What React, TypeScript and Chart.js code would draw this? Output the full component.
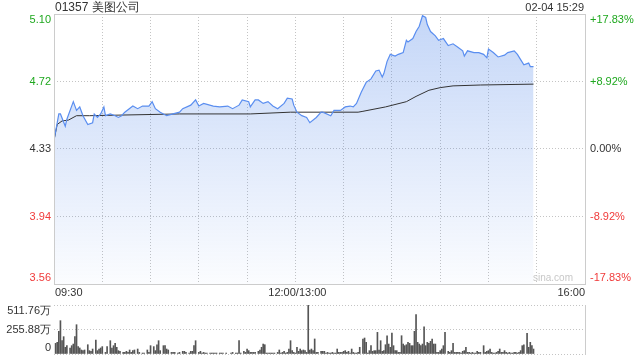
import React, { useEffect, useRef } from "react";
import { Chart, registerables } from "chart.js";

Chart.register(...registerables);

// ---------- data ----------
const titleText = "01357 美图公司";
const stampText = "02-04 15:29";
const watermarkText = "sina.com";

// x axis: minutes of trading session from 09:30 (lunch break collapsed: 150 = 12:00/13:00, 330 = 16:00)
const sessionMax = 330;
const gridStep = 30;
const xLabelMinutes = [0, 150, 330];
const xLabelTexts = ["09:30", "12:00/13:00", "16:00"];

const priceMin = 3.56;
const priceMax = 5.1;
const priceTickValues = [5.1, 4.715, 4.33, 3.945, 3.56];
const priceTickLabels = ["5.10", "4.72", "4.33", "3.94", "3.56"];
const pctTickLabels = ["+17.83%", "+8.92%", "0.00%", "-8.92%", "-17.83%"];

const priceMinutes = [0, 3, 4, 7, 8, 12, 14, 16, 18, 21, 24, 25, 27, 29, 31, 32, 35, 38, 40, 42, 44, 49, 52, 55, 59, 61, 63, 66, 70, 74, 78, 80, 85, 88, 90, 93, 99, 103, 108, 111, 115, 117, 121, 122, 125, 127, 130, 133, 136, 139, 143, 145, 148, 149, 151, 154, 157, 159, 163, 166, 167, 172, 174, 178, 181, 184, 186, 188, 191, 194, 197, 200, 202, 204, 205, 207, 209, 212, 214, 217, 219, 220, 223, 225, 227, 229, 231, 232, 234, 237, 239, 242, 245, 248, 251, 254, 255, 257, 261, 264, 267, 269, 270, 273, 276, 280, 282, 286, 288, 290, 292, 295, 296, 298];
const priceValues = [4.38, 4.53, 4.53, 4.46, 4.5, 4.6, 4.55, 4.57, 4.52, 4.47, 4.48, 4.53, 4.51, 4.53, 4.57, 4.52, 4.53, 4.52, 4.51, 4.52, 4.54, 4.575, 4.56, 4.575, 4.575, 4.6, 4.56, 4.54, 4.52, 4.53, 4.54, 4.56, 4.58, 4.61, 4.575, 4.59, 4.575, 4.57, 4.575, 4.56, 4.58, 4.61, 4.6, 4.57, 4.61, 4.61, 4.59, 4.6, 4.575, 4.56, 4.59, 4.62, 4.615, 4.58, 4.54, 4.52, 4.51, 4.48, 4.51, 4.54, 4.54, 4.52, 4.55, 4.55, 4.57, 4.575, 4.57, 4.59, 4.655, 4.71, 4.73, 4.775, 4.78, 4.74, 4.76, 4.83, 4.87, 4.86, 4.87, 4.88, 4.95, 4.94, 4.96, 5.0, 5.03, 5.09, 5.08, 5.04, 5.0, 4.975, 4.95, 4.96, 4.92, 4.93, 4.91, 4.89, 4.86, 4.89, 4.88, 4.88, 4.87, 4.85, 4.9, 4.88, 4.855, 4.865, 4.88, 4.89, 4.87, 4.84, 4.81, 4.82, 4.8, 4.8];

const avgMinutes = [0, 2, 5, 9, 14, 22, 78, 122, 147, 189, 192, 206, 219, 225, 233, 240, 248, 265, 298];
const avgValues = [4.38, 4.47, 4.49, 4.495, 4.52, 4.52, 4.53, 4.53, 4.54, 4.54, 4.545, 4.57, 4.6, 4.63, 4.665, 4.68, 4.69, 4.695, 4.7];

// volume in 万 shares
const volMax = 511.76;
const volTickValues = [511.76, 255.88, 0];
const volTickLabels = ["511.76万", "255.88万", "0"];
const volMinutes = [1, 2, 3, 4, 5, 6, 7, 8, 10, 11, 12, 13, 14, 15, 16, 17, 18, 19, 21, 22, 23, 24, 26, 27, 28, 29, 30, 32, 33, 35, 36, 37, 38, 39, 40, 41, 43, 44, 45, 46, 47, 48, 49, 50, 52, 53, 55, 56, 58, 59, 60, 62, 63, 64, 65, 66, 68, 69, 70, 71, 73, 74, 75, 77, 78, 80, 81, 82, 84, 85, 86, 87, 88, 90, 91, 92, 93, 94, 95, 97, 98, 99, 100, 101, 103, 104, 105, 107, 110, 111, 113, 114, 115, 116, 118, 119, 120, 121, 122, 123, 124, 125, 127, 128, 129, 130, 131, 132, 133, 134, 135, 136, 137, 139, 140, 141, 142, 143, 144, 145, 146, 147, 148, 149, 150, 151, 152, 153, 154, 155, 156, 157, 158, 159, 160, 161, 162, 163, 164, 166, 167, 168, 169, 170, 171, 172, 173, 174, 175, 176, 177, 178, 179, 180, 181, 182, 183, 184, 185, 186, 187, 188, 189, 190, 192, 193, 194, 195, 196, 197, 198, 199, 200, 201, 202, 203, 204, 205, 206, 207, 208, 209, 210, 211, 212, 213, 214, 215, 216, 217, 218, 219, 220, 221, 222, 223, 224, 225, 226, 227, 228, 229, 230, 231, 232, 233, 234, 235, 236, 237, 238, 239, 240, 241, 242, 243, 245, 246, 247, 248, 249, 250, 251, 252, 253, 254, 255, 256, 257, 258, 259, 260, 261, 262, 263, 264, 265, 267, 268, 269, 270, 271, 272, 273, 274, 275, 276, 277, 278, 279, 280, 281, 282, 283, 284, 285, 286, 287, 288, 289, 290, 291, 292, 294, 295, 296, 297, 298];
const volValues = [111, 122, 237, 348, 139, 181, 70, 87, 63, 87, 104, 181, 306, 77, 63, 42, 35, 42, 97, 35, 28, 52, 146, 35, 52, 63, 77, 17, 77, 139, 63, 87, 111, 70, 35, 28, 17, 17, 28, 17, 42, 17, 35, 42, 52, 17, 10, 10, 42, 17, 87, 77, 35, 97, 139, 35, 87, 87, 52, 42, 17, 17, 17, 10, 17, 28, 28, 17, 10, 28, 28, 87, 139, 17, 28, 10, 17, 10, 10, 10, 10, 10, 10, 10, 10, 10, 10, 10, 10, 17, 10, 10, 139, 10, 28, 17, 52, 35, 17, 17, 17, 17, 28, 42, 70, 104, 97, 10, 10, 10, 10, 10, 10, 17, 42, 10, 17, 28, 10, 17, 52, 139, 35, 17, 10, 70, 28, 52, 35, 42, 35, 17, 508, 42, 52, 35, 157, 17, 17, 28, 28, 28, 10, 17, 10, 10, 17, 10, 10, 52, 17, 17, 17, 28, 35, 17, 28, 10, 52, 17, 10, 10, 17, 70, 157, 167, 122, 10, 35, 87, 28, 35, 35, 226, 42, 139, 28, 35, 97, 191, 104, 70, 219, 87, 35, 35, 17, 17, 191, 104, 87, 97, 122, 111, 87, 87, 237, 411, 122, 104, 87, 104, 285, 87, 122, 111, 132, 157, 104, 104, 17, 17, 35, 52, 87, 226, 28, 17, 35, 111, 17, 17, 17, 17, 10, 28, 35, 70, 17, 17, 10, 17, 10, 10, 28, 17, 17, 87, 17, 28, 35, 52, 17, 10, 10, 17, 28, 52, 17, 17, 35, 17, 10, 17, 10, 10, 17, 17, 10, 17, 35, 87, 97, 216, 70, 122, 87, 52];

// ---------- styles ----------
const FONT = '"Liberation Sans", Arial, Helvetica, sans-serif';
const UP = "#1fa81f";
const DOWN = "#f03a3a";
const NEUTRAL = "#333333";
const GRID = "#c4c4c4";
const FRAME = "#cccccc";

const tickColor = (i: number, n: number) => {
  const mid = (n - 1) / 2;
  if (i < mid) return UP;
  if (i > mid) return DOWN;
  return NEUTRAL;
};

const priceTextPlugin = {
  id: "priceText",
  afterDatasetsDraw(chart: any) {
    const { ctx, chartArea, scales } = chart;
    const { left, right, top, bottom } = chartArea;
    ctx.save();
    ctx.strokeStyle = FRAME;
    ctx.lineWidth = 1;
    ctx.setLineDash([]);
    ctx.strokeRect(Math.round(left) + 0.5, Math.round(top) + 0.5, Math.round(right - left), Math.round(bottom - top));
    ctx.restore();
  },
  afterDraw(chart: any) {
    const { ctx, chartArea, scales } = chart;
    const { left, right, top, bottom } = chartArea;
    const ys = scales.y;
    const xs = scales.x;
    ctx.save();
    ctx.font = `11px ${FONT}`;
    ctx.textBaseline = "middle";
    const n = priceTickValues.length;
    priceTickValues.forEach((v, i) => {
      let py = ys.getPixelForValue(v);
      if (i === 0) py += 5.5;
      else if (i === n - 1) py -= 6;
      ctx.fillStyle = tickColor(i, n);
      ctx.textAlign = "right";
      ctx.fillText(priceTickLabels[i], left - 3, py);
      ctx.textAlign = "left";
      ctx.fillText(pctTickLabels[i], right + 5, py);
    });
    // x labels
    ctx.fillStyle = NEUTRAL;
    xLabelMinutes.forEach((m, i) => {
      const px = xs.getPixelForValue(m);
      let align: CanvasTextAlign = "center";
      let dx = 2;
      if (i === 0) { align = "left"; dx = 1; }
      else if (i === xLabelMinutes.length - 1) { align = "right"; dx = 0; }
      ctx.textAlign = align;
      ctx.fillText(xLabelTexts[i], px + dx, bottom + 9);
    });
    // title & stamp
    ctx.font = `12px ${FONT}`;
    ctx.textAlign = "left";
    ctx.fillText(titleText, left + 1, top - 6);
    ctx.font = `11px ${FONT}`;
    ctx.textAlign = "right";
    ctx.fillText(stampText, right - 1, top - 6);
    // watermark
    ctx.font = `10px ${FONT}`;
    ctx.fillStyle = "#c8c8c8";
    ctx.textAlign = "right";
    ctx.fillText(watermarkText, right - 12, bottom - 6);
    ctx.restore();
  },
};

const volTextPlugin = {
  id: "volText",
  afterDraw(chart: any) {
    const { ctx, chartArea, scales } = chart;
    const { left, right, top, bottom } = chartArea;
    const ys = scales.y;
    ctx.save();
    ctx.strokeStyle = FRAME;
    ctx.lineWidth = 1;
    ctx.beginPath();
    ctx.moveTo(Math.round(right) + 0.5, Math.round(top));
    ctx.lineTo(Math.round(right) + 0.5, Math.round(bottom) + 1);
    ctx.stroke();
    ctx.font = `11px ${FONT}`;
    ctx.textBaseline = "middle";
    ctx.textAlign = "right";
    ctx.fillStyle = NEUTRAL;
    const n = volTickValues.length;
    volTickValues.forEach((v, i) => {
      let py = ys.getPixelForValue(v);
      if (i === 0) py += 6;
      else if (i === n - 1) py -= 6;
      ctx.fillText(volTickLabels[i], left - 3, py);
    });
    ctx.restore();
  },
};

export default function App() {
  const priceRef = useRef<HTMLCanvasElement>(null);
  const volRef = useRef<HTMLCanvasElement>(null);

  useEffect(() => {
    const priceData = priceMinutes.map((m, i) => ({ x: m, y: priceValues[i] }));
    const avgData = avgMinutes.map((m, i) => ({ x: m, y: avgValues[i] }));
    const volData = volMinutes.map((m, i) => ({ x: m, y: volValues[i] }));

    const priceChart = new Chart(priceRef.current as HTMLCanvasElement, {
      type: "line",
      data: {
        datasets: [
          {
            data: priceData,
            borderColor: "#5a8ef0",
            borderWidth: 1.2,
            pointRadius: 0,
            tension: 0,
            fill: "start",
            backgroundColor: (c: any) => {
              const { chart } = c;
              const area = chart.chartArea;
              if (!area) return "rgba(60,120,230,0.15)";
              const g = chart.ctx.createLinearGradient(0, area.top, 0, area.bottom);
              g.addColorStop(0, "rgba(60,120,230,0.30)");
              g.addColorStop(1, "rgba(60,120,230,0.02)");
              return g;
            },
          },
          {
            data: avgData,
            borderColor: "#333333",
            borderWidth: 1,
            pointRadius: 0,
            tension: 0,
            fill: false,
          },
        ],
      },
      options: {
        responsive: false,
        animation: false,
        events: [],
        layout: { padding: { left: 54, right: 55, top: 14, bottom: 16 } },
        plugins: {
          legend: { display: false },
          tooltip: { enabled: false },
          filler: { drawTime: "beforeDatasetsDraw" },
        } as any,
        scales: {
          x: {
            type: "linear",
            min: 0,
            max: sessionMax,
            ticks: { display: false, stepSize: gridStep },
            grid: { color: GRID, drawTicks: false, lineWidth: 1 },
            border: { display: false, dash: [1, 2] },
          },
          y: {
            type: "linear",
            min: priceMin,
            max: priceMax,
            afterBuildTicks: (s: any) => {
              s.ticks = priceTickValues.map((v) => ({ value: v }));
            },
            ticks: { display: false },
            grid: { color: GRID, drawTicks: false, lineWidth: 1 },
            border: { display: false, dash: [1, 2] },
          },
        },
      } as any,
      plugins: [priceTextPlugin],
    });

    const volChart = new Chart(volRef.current as HTMLCanvasElement, {
      type: "bar",
      data: {
        datasets: [
          {
            data: volData,
            backgroundColor: "#555555",
            barThickness: 1,
            borderWidth: 0,
          },
        ],
      },
      options: {
        responsive: false,
        animation: false,
        events: [],
        layout: { padding: { left: 54, right: 55, top: 5, bottom: 6 } },
        plugins: { legend: { display: false }, tooltip: { enabled: false } },
        scales: {
          x: {
            type: "linear",
            min: 0,
            max: sessionMax,
            offset: false,
            ticks: { display: false },
            grid: { display: false, offset: false, drawTicks: false },
            border: { display: false },
          },
          y: {
            type: "linear",
            min: 0,
            max: volMax,
            afterBuildTicks: (s: any) => {
              s.ticks = volTickValues.map((v) => ({ value: v }));
            },
            ticks: { display: false },
            grid: { color: GRID, drawTicks: false, lineWidth: 1 },
            border: { display: false, dash: [1, 2] },
          },
        },
      } as any,
      plugins: [volTextPlugin],
    });

    return () => {
      priceChart.destroy();
      volChart.destroy();
    };
  }, []);

  return (
    <div style={{ position: "fixed", left: 0, top: 0, width: 640, height: 360, background: "#fff" }}>
      <canvas ref={priceRef} width={640} height={300} style={{ position: "absolute", left: 0, top: 0 }} />
      <canvas ref={volRef} width={640} height={60} style={{ position: "absolute", left: 0, top: 300 }} />
    </div>
  );
}
